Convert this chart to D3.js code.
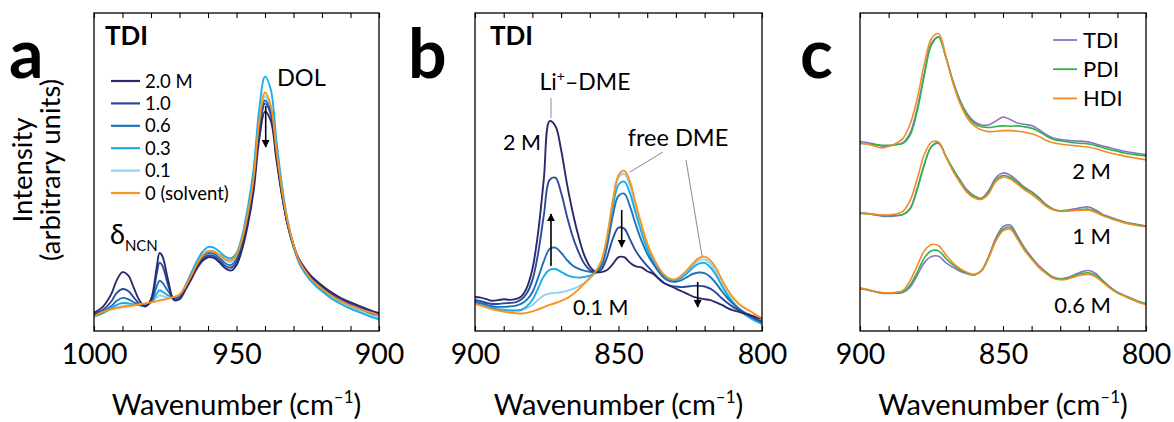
<!DOCTYPE html>
<html>
<head>
<meta charset="utf-8">
<script src="https://cdn.jsdelivr.net/npm/d3@7"></script>
<style>
  html, body { margin: 0; padding: 0; background: #fff; }
  svg { display: block; font-family: Lato, "Open Sans", sans-serif; }
</style>
</head>
<body>
<svg id="chart" width="1174" height="422"></svg>
<script>
// ---------- Panel a: TDI in DOL region ----------
const waveA = [1000, 997, 994, 992, 990, 988, 986, 984, 982, 980, 978, 977, 976, 974, 972, 970,
  968, 966, 964, 962, 960, 958, 956, 954, 952, 950, 948, 946, 944, 942, 940, 938, 936, 934, 932,
  930, 928, 926, 924, 922, 920, 917, 914, 911, 908, 905, 902, 900];
const concLabels = ["2.0 M", "1.0", "0.6", "0.3", "0.1", "0 (solvent)"];
const a_2_0 = [.057, .075, .115, .160, .185, .175, .135, .095, .077, .100, .200, .245, .235, .160, .098, .100,
  .128, .160, .195, .220, .232, .230, .216, .198, .190, .207, .258, .335, .440, .605, .690, .662, .540, .423, .333,
  .270, .225, .197, .175, .158, .143, .123, .107, .094, .083, .072, .062, .057];
const a_1_0 = [.052, .065, .092, .120, .132, .126, .105, .085, .078, .095, .180, .215, .205, .145, .100, .103,
  .132, .166, .201, .226, .238, .236, .222, .205, .199, .217, .270, .350, .460, .630, .715, .682, .550, .428, .333,
  .268, .221, .192, .170, .153, .138, .118, .102, .089, .078, .068, .058, .053];
const a_0_6 = [.050, .060, .078, .095, .104, .100, .090, .082, .080, .092, .140, .158, .152, .125, .104, .107,
  .136, .171, .207, .233, .245, .243, .230, .213, .207, .226, .278, .357, .467, .640, .725, .690, .555, .430, .332,
  .266, .218, .188, .166, .149, .134, .114, .098, .085, .074, .064, .054, .049];
const a_0_3 = [.045, .055, .070, .082, .088, .087, .083, .081, .081, .090, .117, .128, .124, .112, .106, .112,
  .142, .180, .218, .248, .264, .262, .250, .234, .228, .245, .300, .390, .510, .700, .800, .760, .600, .455, .345,
  .270, .215, .183, .158, .140, .125, .104, .088, .074, .063, .052, .042, .036];
const a_0_1 = [.048, .058, .068, .074, .078, .080, .081, .082, .083, .090, .105, .112, .110, .105, .104, .109,
  .138, .174, .210, .238, .252, .250, .238, .222, .216, .234, .285, .365, .475, .650, .738, .700, .560, .430, .330,
  .262, .212, .182, .160, .143, .128, .108, .092, .079, .068, .058, .048, .043];
const a_solv = [.045, .060, .068, .072, .075, .078, .081, .084, .087, .090, .094, .096, .098, .102, .107, .115,
  .138, .172, .208, .236, .251, .250, .240, .226, .222, .240, .290, .370, .480, .660, .750, .710, .570, .440, .340,
  .270, .220, .190, .165, .148, .133, .113, .097, .084, .074, .064, .056, .048];

// ---------- Panel b: TDI in DME region ----------
const waveB = d3.range(900, 799, -2);
const b_2_0 = [.107, .105, .100, .095, .097, .100, .098, .100, .108, .135, .195, .310, .480, .660, .645, .570,
  .465, .375, .300, .240, .203, .186, .185, .192, .210, .232, .232, .215, .203, .200, .188, .180, .165, .150,
  .142, .133, .125, .117, .108, .103, .100, .097, .090, .082, .072, .065, .060, .055, .050, .043, .038];
const b_1_0 = [.098, .094, .088, .085, .085, .087, .088, .090, .098, .118, .160, .245, .365, .475, .482, .435,
  .362, .298, .250, .213, .192, .184, .193, .232, .290, .325, .322, .288, .252, .226, .205, .185, .165, .150,
  .142, .140, .138, .140, .142, .142, .140, .133, .120, .103, .088, .075, .065, .055, .046, .037, .030];
const b_0_6 = [.092, .088, .082, .078, .076, .076, .077, .079, .085, .098, .122, .168, .220, .258, .262, .246,
  .224, .206, .196, .190, .186, .185, .203, .265, .362, .425, .432, .392, .335, .284, .243, .212, .186, .166,
  .156, .155, .160, .170, .180, .184, .182, .170, .150, .125, .103, .085, .070, .058, .047, .036, .028];
const b_0_3 = [.088, .082, .076, .072, .068, .066, .064, .064, .066, .077, .098, .134, .172, .192, .195, .186,
  .176, .170, .168, .170, .174, .183, .210, .280, .388, .460, .470, .433, .370, .310, .258, .220, .192, .171,
  .161, .160, .168, .182, .200, .212, .214, .200, .175, .142, .112, .088, .068, .052, .040, .030, .022];
const b_0_1 = [.090, .085, .078, .073, .070, .068, .066, .066, .067, .072, .082, .098, .112, .118, .120, .122,
  .126, .132, .140, .150, .165, .184, .215, .290, .403, .482, .494, .458, .390, .325, .268, .228, .197, .174,
  .163, .162, .172, .188, .207, .221, .225, .212, .185, .150, .118, .092, .072, .056, .044, .034, .026];
const b_solv = [.085, .080, .074, .068, .064, .061, .058, .056, .055, .057, .062, .068, .075, .082, .088, .095,
  .103, .115, .130, .148, .168, .187, .220, .295, .408, .490, .504, .470, .400, .335, .276, .233, .200, .176,
  .164, .163, .175, .193, .213, .229, .234, .222, .197, .162, .130, .104, .085, .072, .062, .050, .040];

// ---------- Panel c: TDI / PDI / HDI at 2, 1, 0.6 M ----------
const waveC = d3.range(900, 799.9, -2.5);
const saltNames = ["TDI", "PDI", "HDI"];
const concC = ["2 M", "1 M", "0.6 M"];
const c_TDI_2 = [.595, .593, .588, .582, .582, .586, .592, .622, .700, .810, .905, .925, .862, .785, .725, .683,
  .658, .648, .648, .660, .673, .665, .654, .650, .646, .634, .618, .607, .602, .600, .598, .597, .594, .588,
  .582, .576, .570, .565, .561, .558, .555];
const c_PDI_2 = [.590, .588, .586, .584, .584, .586, .590, .615, .692, .805, .900, .924, .862, .785, .722, .678,
  .652, .642, .640, .643, .645, .644, .645, .642, .638, .628, .614, .603, .598, .595, .592, .590, .588, .583,
  .576, .570, .565, .560, .556, .553, .550];
const c_HDI_2 = [.592, .588, .582, .576, .580, .590, .605, .650, .730, .840, .920, .935, .865, .780, .715, .670,
  .645, .632, .627, .628, .630, .630, .628, .625, .620, .612, .600, .592, .588, .585, .583, .580, .578, .573,
  .566, .560, .555, .550, .546, .542, .538];
const c_TDI_1 = [.372, .370, .366, .361, .360, .362, .366, .385, .448, .525, .580, .590, .550, .510, .475, .443,
  .425, .418, .442, .482, .497, .490, .472, .452, .438, .420, .398, .384, .378, .380, .384, .388, .390, .380,
  .366, .358, .350, .343, .338, .334, .330];
const c_PDI_1 = [.370, .368, .366, .364, .363, .364, .366, .383, .445, .523, .580, .592, .550, .508, .472, .440,
  .423, .416, .437, .475, .489, .483, .467, .449, .436, .418, .397, .383, .377, .378, .380, .382, .383, .376,
  .364, .356, .349, .342, .337, .333, .330];
const c_HDI_1 = [.371, .369, .367, .365, .365, .368, .376, .410, .478, .555, .594, .594, .548, .503, .466, .435,
  .418, .414, .432, .470, .484, .478, .462, .444, .430, .412, .393, .381, .376, .377, .379, .380, .380, .373,
  .362, .354, .347, .340, .335, .331, .328];
const c_TDI_06 = [.134, .130, .124, .119, .118, .119, .121, .138, .175, .215, .234, .235, .215, .200, .188, .180,
  .176, .190, .235, .292, .328, .333, .300, .262, .232, .206, .186, .170, .164, .168, .177, .186, .190, .180,
  .158, .138, .122, .112, .102, .093, .086];
const c_PDI_06 = [.134, .130, .124, .120, .119, .120, .123, .145, .185, .230, .252, .252, .228, .208, .192, .182,
  .177, .190, .232, .287, .320, .326, .295, .258, .229, .203, .184, .168, .163, .166, .174, .181, .183, .174,
  .155, .136, .121, .111, .101, .092, .085];
const c_HDI_06 = [.135, .131, .125, .121, .120, .122, .128, .158, .205, .252, .272, .268, .240, .214, .196, .184,
  .178, .190, .230, .283, .315, .320, .290, .254, .226, .200, .181, .166, .161, .163, .170, .176, .178, .170,
  .152, .134, .119, .109, .099, .090, .083];

// ---------- drawing ----------
const concColors = ["#2a2a6c", "#2c4a9c", "#1f72b8", "#19aee6", "#8fd3f4", "#f7931e"];
const saltColors = { TDI: "#8a73c4", PDI: "#2eb24f", HDI: "#f48a22" };

const svg = d3.select("#chart");
const defs = svg.append("defs");
defs.append("marker")
  .attr("id", "head").attr("viewBox", "0 0 10 10").attr("refX", 9).attr("refY", 5)
  .attr("markerWidth", 5.2).attr("markerHeight", 5.2).attr("orient", "auto-start-reverse")
  .attr("markerUnits", "strokeWidth")
  .append("path").attr("d", "M0,0 L10,5 L0,10 Z").attr("fill", "#000");

const plotTop = 13, plotBottom = 331;
const y = d3.scaleLinear().domain([0, 1]).range([plotBottom, plotTop]);

function panel(id, left, right, domain, labelTicks) {
  const x = d3.scaleLinear().domain(domain).range([left, right]);
  const g = svg.append("g").attr("class", "panel-" + id);
  defs.append("clipPath").attr("id", "clip-" + id)
    .append("rect").attr("x", left).attr("y", plotTop).attr("width", right - left).attr("height", plotBottom - plotTop);
  const all = d3.range(domain[0], domain[1] - 1, -10);
  const axB = d3.axisBottom(x).tickValues(all).tickSizeInner(-5).tickSizeOuter(0).tickPadding(13)
    .tickFormat(d => labelTicks.includes(d) ? d : "");
  const axT = d3.axisTop(x).tickValues(all).tickSizeInner(-5).tickSizeOuter(0).tickFormat("");
  const gb = g.append("g").attr("transform", `translate(0,${plotBottom})`).call(axB);
  const gt = g.append("g").attr("transform", `translate(0,${plotTop})`).call(axT);
  [gb, gt].forEach(s => { s.select(".domain").remove(); s.selectAll("line").attr("stroke", "#000").attr("stroke-width", 1.1); });
  gb.selectAll("text").attr("font-size", 28.5).attr("fill", "#000").attr("font-family", "Lato, sans-serif");
  const lines = g.append("g").attr("clip-path", `url(#clip-${id})`);
  g.append("rect").attr("x", left).attr("y", plotTop).attr("width", right - left).attr("height", plotBottom - plotTop)
    .attr("fill", "none").attr("stroke", "#000").attr("stroke-width", 1.3);
  const t = g.append("text").attr("x", (left + right) / 2).attr("y", 415).attr("text-anchor", "middle")
    .attr("font-size", 29).text("Wavenumber (cm");
  t.append("tspan").attr("font-size", 17).attr("dy", -12).text("–1");
  t.append("tspan").attr("dy", 12).text(")");
  return { x, g, lines };
}

function drawSeries(p, waves, vals, color, width) {
  const line = d3.line().x((d, i) => p.x(waves[i])).y(d => y(d)).curve(d3.curveCatmullRom.alpha(0.5));
  p.lines.append("path").datum(vals).attr("d", line).attr("fill", "none")
    .attr("stroke", color).attr("stroke-width", width).attr("stroke-linejoin", "round");
}

function arrow(x1, y1, x2, y2) {
  svg.append("line").attr("x1", x1).attr("y1", y1).attr("x2", x2).attr("y2", y2)
    .attr("stroke", "#000").attr("stroke-width", 1.6).attr("marker-end", "url(#head)");
}
function leader(x1, y1, x2, y2) {
  svg.append("line").attr("x1", x1).attr("y1", y1).attr("x2", x2).attr("y2", y2)
    .attr("stroke", "#8a8a8a").attr("stroke-width", 1);
}
function label(x, yy, txt, size, opts = {}) {
  return svg.append("text").attr("x", x).attr("y", yy).attr("font-size", size)
    .attr("font-weight", opts.bold ? 700 : 400).attr("text-anchor", opts.anchor || "start").text(txt);
}

// panel a
const pa = panel("a", 94, 379, [1000, 900], [1000, 950, 900]);
const seriesA = [a_2_0, a_1_0, a_0_6, a_0_3, a_0_1, a_solv];
[4, 3, 2, 1, 0, 5].forEach(i => drawSeries(pa, waveA, seriesA[i], concColors[i], 1.9));
arrow(265.7, 106, 265.7, 147);
label(105, 45, "TDI", 26, { bold: true });
label(277, 86, "DOL", 23.5);
const dl = label(110, 244, "δ", 27);
dl.append("tspan").attr("font-size", 15).attr("dy", 7).text("NCN");
concLabels.forEach((c, i) => {
  const yy = 81 + i * 22.4;
  svg.append("line").attr("x1", 111).attr("x2", 140).attr("y1", yy).attr("y2", yy)
    .attr("stroke", concColors[i]).attr("stroke-width", 2.2);
  label(145, yy + 6.5, c, 18.5);
});

// panel b
const pb = panel("b", 475, 762, [900, 800], [900, 850, 800]);
const seriesB = [b_2_0, b_1_0, b_0_6, b_0_3, b_0_1, b_solv];
[4, 3, 2, 1, 0, 5].forEach(i => drawSeries(pb, waveB, seriesB[i], concColors[i], 1.9));
label(490, 45, "TDI", 26, { bold: true });
const li = label(585, 90, "Li", 23, { anchor: "middle" });
li.append("tspan").attr("font-size", 14).attr("dy", -9).text("+");
li.append("tspan").attr("dy", 9).text("–DME");
leader(551, 98, 551, 118);
label(541, 150, "2 M", 21.5, { anchor: "end" });
label(678, 146, "free DME", 23.5, { anchor: "middle" });
leader(663, 152, 630, 172);
leader(686, 160, 702, 256);
label(573, 315, "0.1 M", 21.5);
arrow(551, 266, 551, 214);
arrow(621.7, 210, 621.7, 247);
arrow(697.7, 282, 697.7, 307);

// panel c
const pc = panel("c", 860, 1146, [900, 800], [900, 850, 800]);
const seriesC = [
  [c_TDI_2, c_PDI_2, c_HDI_2],
  [c_TDI_1, c_PDI_1, c_HDI_1],
  [c_TDI_06, c_PDI_06, c_HDI_06]
];
seriesC.forEach(group => {
  [0, 1, 2].forEach(j => drawSeries(pc, waveC, group[j], saltColors[saltNames[j]], 1.6));
});
[179, 244, 313].forEach((yy, i) => label(1111, yy, concC[i], 22, { anchor: "end" }));
saltNames.forEach((s, i) => {
  const yy = 40 + i * 29.2;
  svg.append("line").attr("x1", 1053).attr("x2", 1077).attr("y1", yy).attr("y2", yy)
    .attr("stroke", saltColors[s]).attr("stroke-width", 1.8);
  label(1083, yy + 7.5, s, 22);
});

// y-axis title and panel letters
const yt = svg.append("text").attr("transform", "translate(0,170) rotate(-90)")
  .attr("text-anchor", "middle").attr("font-size", 27.5);
yt.append("tspan").attr("x", 0).attr("y", 32).text("Intensity");
yt.append("tspan").attr("x", 0).attr("y", 60).text("(arbitrary units)");
label(9, 78, "a", 68, { bold: true });
label(408, 78, "b", 68, { bold: true });
label(800, 78, "c", 68, { bold: true });
</script>
</body>
</html>
